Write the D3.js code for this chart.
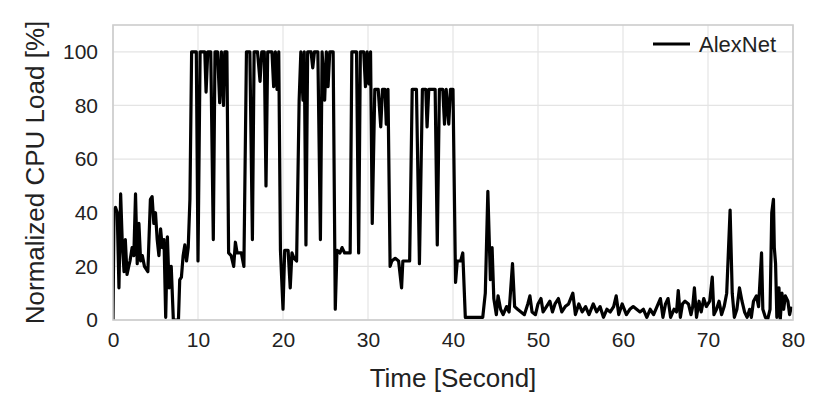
<!DOCTYPE html>
<html>
<head>
<meta charset="utf-8">
<script src="https://cdn.jsdelivr.net/npm/d3@7"></script>
<style>
  body { margin: 0; background: #fff; }
  text { font-family: "Liberation Sans", Arial, Helvetica, sans-serif; fill: #222; }
</style>
</head>
<body>
<svg id="graphe" width="830" height="415"></svg>
<script>
// Données : temps (s) et charge CPU normalisée (%)
const temps = [
  0, 0.12, 0.3, 0.5, 0.7, 0.9, 1.1, 1.3, 1.45, 1.65, 1.85, 2.0, 2.25, 2.45, 2.65, 2.85, 3.05, 3.25, 3.45, 3.7,
  4.1, 4.4, 4.6, 4.8, 5.0, 5.2, 5.4, 5.6, 5.8, 6.0, 6.2, 6.4, 6.6, 6.85, 7.1, 7.4, 7.7, 7.85, 8.05, 8.25,
  8.45, 8.65, 8.85, 9.05, 9.25, 9.5, 9.8, 10.0, 10.25, 10.5, 10.8, 10.95, 11.15, 11.5, 11.8, 12.0, 12.3, 12.55, 12.75, 13.0,
  13.15, 13.4, 13.6, 13.9, 14.2, 14.4, 14.6, 15.1, 15.4, 15.7, 16.1, 16.4, 16.6, 17.0, 17.3, 17.5, 17.8, 18.0, 18.2, 18.7,
  18.9, 19.1, 19.3, 19.5, 19.7, 20.0, 20.2, 20.6, 20.85, 21.05, 21.3, 21.6, 21.9, 22.1, 22.35, 22.5, 22.7, 22.9, 23.3, 23.5,
  23.7, 24.1, 24.4, 24.6, 24.9, 25.1, 25.3, 25.5, 25.9, 26.15, 26.35, 26.7, 26.95, 27.25, 27.9, 28.1, 28.4, 28.65, 28.9, 29.1,
  29.5, 29.7, 29.9, 30.1, 30.3, 30.5, 30.8, 31.2, 31.5, 31.7, 32.0, 32.15, 32.35, 32.6, 32.8, 33.2, 33.6, 33.95, 34.1, 34.9,
  35.2, 35.7, 36.05, 36.4, 36.8, 36.95, 37.15, 37.9, 38.15, 38.4, 38.8, 39.0, 39.2, 39.5, 39.7, 40.0, 40.3, 40.5, 40.9, 41.15,
  41.45, 43.5, 43.8, 44.1, 44.4, 44.6, 44.8, 45.1, 45.3, 45.6, 45.9, 46.3, 46.6, 47.0, 47.25, 47.6, 48.0, 48.4, 48.8, 49.05,
  49.3, 49.7, 50.0, 50.35, 50.6, 51.0, 51.4, 51.7, 52.0, 52.4, 52.8, 53.2, 53.6, 54.1, 54.4, 54.8, 55.2, 55.6, 56.0, 56.5,
  56.9, 57.3, 57.7, 58.1, 58.5, 58.9, 59.2, 59.5, 59.9, 60.4, 60.8, 61.2, 61.6, 62.0, 62.4, 62.8, 63.2, 63.6, 64.0, 64.4,
  64.7, 65.0, 65.3, 65.6, 66.0, 66.3, 66.5, 66.75, 67.0, 67.3, 67.7, 68.0, 68.2, 68.4, 68.65, 68.95, 69.2, 69.5, 69.8, 70.2,
  70.5, 70.7, 71.0, 71.3, 71.6, 71.9, 72.2, 72.6, 72.85, 73.1, 73.4, 73.7, 74.0, 74.3, 74.6, 74.9, 75.1, 75.35, 75.7, 75.95,
  76.3, 76.45, 76.75, 77.0, 77.3, 77.5, 77.7, 77.8, 77.95, 78.1, 78.35, 78.5, 78.7, 78.9, 79.1, 79.4, 79.6, 79.8
]
const chargeAlexNet = [
  0, 41, 42, 40, 12, 47, 28, 18, 30, 17, 20, 22, 27, 24, 47, 21, 36, 22, 24, 20,
  18, 45, 46, 36, 40, 30, 24, 34, 27, 30, 1, 31, 12, 20, 0, 0, 0, 15, 16, 24,
  28, 22, 27, 45, 100, 100, 100, 22, 100, 100, 100, 85, 100, 100, 30, 100, 100, 81, 100, 80,
  100, 100, 25, 24, 20, 29, 25, 25, 20, 100, 100, 30, 100, 100, 89, 100, 100, 50, 100, 100,
  87, 100, 86, 100, 26, 4, 26, 26, 12, 25, 23, 22, 82, 100, 82, 100, 28, 100, 100, 94,
  100, 100, 30, 100, 82, 100, 87, 100, 100, 4, 26, 25, 27, 25, 25, 100, 100, 100, 25, 100,
  100, 87, 100, 88, 100, 36, 86, 86, 72, 86, 86, 73, 86, 20, 22, 23, 22, 12, 22, 22,
  86, 86, 21, 86, 86, 72, 86, 86, 28, 86, 86, 73, 86, 73, 86, 86, 14, 22, 22, 25,
  1, 1, 10, 48, 15, 27, 8, 2, 9, 4, 2, 5, 3, 21, 5, 4, 3, 2, 6, 9,
  3, 2, 6, 8, 3, 5, 7, 3, 6, 8, 3, 5, 6, 10, 2, 6, 3, 5, 2, 6,
  3, 5, 1, 4, 3, 5, 9, 2, 6, 2, 4, 5, 4, 3, 4, 1, 4, 2, 5, 8,
  1, 6, 8, 1, 4, 3, 11, 1, 6, 7, 6, 2, 5, 12, 1, 7, 3, 8, 5, 7,
  16, 2, 4, 7, 2, 5, 10, 41, 10, 1, 4, 12, 7, 3, 1, 4, 1, 7, 9, 5,
  25, 4, 1, 0, 4, 40, 45, 27, 21, 1, 12, 0, 10, 4, 9, 7, 2, 5
]
const graduationsX = [0, 10, 20, 30, 40, 50, 60, 70, 80]
const graduationsY = [0, 20, 40, 60, 80, 100]
const nomSerie = 'AlexNet'

// ZONE DE DESSIN
const marge = {haut: 25, droite: 37, bas: 95, gauche: 113}
const largeur = 830, hauteur = 415
const svg = d3.select('#graphe')

const x = d3.scaleLinear().domain([0, 80]).range([marge.gauche, largeur - marge.droite])
const y = d3.scaleLinear().domain([0, 110]).range([hauteur - marge.bas, marge.haut])

// Grille
svg.append('g')
    .selectAll('line.vert')
    .data(graduationsX)
    .join('line')
    .attr('x1', d => x(d)).attr('x2', d => x(d))
    .attr('y1', y(0)).attr('y2', y(110))
    .style('stroke', '#e4e4e4')
    .style('stroke-width', 1.2)
svg.append('g')
    .selectAll('line.horiz')
    .data(graduationsY)
    .join('line')
    .attr('x1', x(0)).attr('x2', x(80))
    .attr('y1', d => y(d)).attr('y2', d => y(d))
    .style('stroke', '#e4e4e4')
    .style('stroke-width', 1.2)

// Axes (sans traits, juste les étiquettes)
const axeX = svg.append('g')
    .attr('transform', `translate(0,${y(0)})`)
    .call(d3.axisBottom(x).tickValues(graduationsX).tickSize(0).tickPadding(12))
const axeY = svg.append('g')
    .attr('transform', `translate(${x(0)},0)`)
    .call(d3.axisLeft(y).tickValues(graduationsY).tickSize(0).tickPadding(15))
axeX.select('.domain').remove()
axeY.select('.domain').remove()
svg.selectAll('.tick text')
    .style('font-size', '21px')
    .style('font-family', '"Liberation Sans", Arial, sans-serif')
    .attr('fill', '#222')

// Courbe
svg.append('clipPath').attr('id', 'cadre')
    .append('rect')
    .attr('x', x(0)).attr('y', y(110))
    .attr('width', x(80) - x(0)).attr('height', y(0) - y(110))
const ligne = d3.line()
    .x((d, i) => x(temps[i]))
    .y(d => y(d))
svg.append('path')
    .datum(chargeAlexNet)
    .attr('d', ligne)
    .attr('clip-path', 'url(#cadre)')
    .style('fill', 'none')
    .style('stroke', '#000')
    .style('stroke-width', 3.2)
    .style('stroke-linejoin', 'round')

// Cadre
svg.append('rect')
    .attr('x', x(0)).attr('y', y(110))
    .attr('width', x(80) - x(0)).attr('height', y(0) - y(110))
    .style('fill', 'none')
    .style('stroke', '#cccccc')
    .style('stroke-width', 1.6)

// Titres des axes
svg.append('text')
    .attr('x', (x(0) + x(80)) / 2)
    .attr('y', 387)
    .attr('text-anchor', 'middle')
    .style('font-size', '26px')
    .text('Time [Second]')
svg.append('text')
    .attr('transform', `translate(44,${(y(0) + y(110)) / 2}) rotate(-90)`)
    .attr('text-anchor', 'middle')
    .style('font-size', '26px')
    .text('Normalized CPU Load [%]')

// Légende
svg.append('line')
    .attr('x1', 653).attr('x2', 690)
    .attr('y1', 44).attr('y2', 44)
    .style('stroke', '#000')
    .style('stroke-width', 3.2)
svg.append('text')
    .attr('x', 699).attr('y', 52)
    .style('font-size', '22px')
    .text(nomSerie)
</script>
</body>
</html>
